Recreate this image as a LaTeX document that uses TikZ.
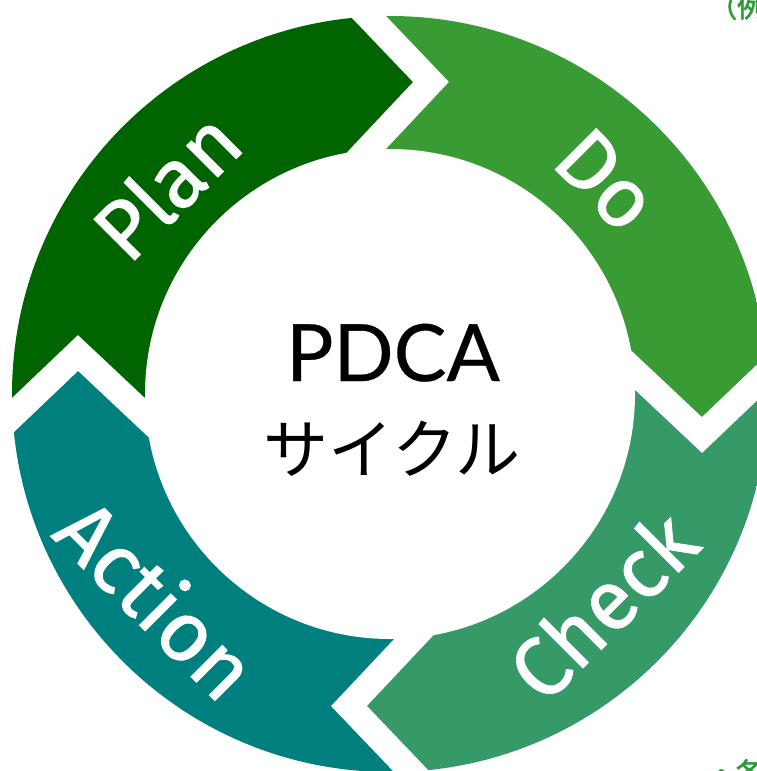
\documentclass[tikz,border=0pt]{standalone}
\usepackage{fontspec}
\newfontfamily\labelfont{Fira Sans}[FakeBold=1.2]
\newfontfamily\pdcafont{Lato}[FakeBold=0.4]
\newfontfamily\cjk{Noto Sans CJK JP}
\newfontfamily\cjkbold{Noto Sans CJK JP}[FakeBold=2]
\definecolor{planc}{HTML}{006400}
\definecolor{doc}{HTML}{389B34}
\definecolor{checkc}{HTML}{359968}
\definecolor{actc}{HTML}{007F7F}
\definecolor{txtgreen}{HTML}{2E9B3A}
\tikzset{
  gapline/.style={white, line width=26pt, line join=miter},
  ringlabel/.style={text=white, inner sep=0pt, font=\labelfont\fontsize{84}{88}\selectfont},
  partial/.style={text=txtgreen, inner sep=0pt, font=\cjkbold\fontsize{28}{30}\selectfont}
}
\begin{document}
\begin{tikzpicture}[x=1pt,y=-1pt]
\useasboundingbox (0,0) rectangle (757,771);
\fill[white] (0,0) rectangle (757,771);
\clip (0,0) rectangle (757,771);
\coordinate (C) at (390,394);
% top boundary (Plan -> Do)
\coordinate (At) at (325.7,194);
\coordinate (Tt) at (431,82);
\coordinate (Bt) at (318.4,-36);
\coordinate (Ft) at (350,-206);
% right boundary (Do -> Check)
\coordinate (Ar) at (590,329.7);
\coordinate (Tr) at (702,435);
\coordinate (Br) at (820,322.4);
\coordinate (Fr) at (990,354);
% bottom boundary (Check -> Action)
\coordinate (Ab) at (454.3,594);
\coordinate (Tb) at (349,706);
\coordinate (Bb) at (461.6,824);
\coordinate (Fb) at (430,994);
% left boundary (Action -> Plan)
\coordinate (Al) at (190,458.3);
\coordinate (Tl) at (78,353);
\coordinate (Bl) at (-40,465.6);
\coordinate (Fl) at (-210,434);
\begin{scope}
  \clip (C) circle (378pt);
  \fill[planc] (C) -- (Al) -- (Tl) -- (Bl) -- (Fl) -- (-210,-206) -- (Ft) -- (Bt) -- (Tt) -- (At) -- cycle;
  \fill[doc] (C) -- (At) -- (Tt) -- (Bt) -- (Ft) -- (990,-206) -- (Fr) -- (Br) -- (Tr) -- (Ar) -- cycle;
  \fill[checkc] (C) -- (Ar) -- (Tr) -- (Br) -- (Fr) -- (990,994) -- (Fb) -- (Bb) -- (Tb) -- (Ab) -- cycle;
  \fill[actc] (C) -- (Ab) -- (Tb) -- (Bb) -- (Fb) -- (-210,994) -- (Fl) -- (Bl) -- (Tl) -- (Al) -- cycle;
\end{scope}
\fill[white] (C) circle (245pt);
\draw[gapline] (At) -- (Tt) -- (Bt);
\draw[gapline] (Ar) -- (Tr) -- (Br);
\draw[gapline] (Ab) -- (Tb) -- (Bb);
\draw[gapline] (Al) -- (Tl) -- (Bl);
% ring labels
\node[ringlabel, rotate=45] (plan) at (166,185) {Plan};
\node[ringlabel, rotate=-45] (do) at (606,180) {Do};
\node[ringlabel, rotate=45] (check) at (602,605) {Check};
\node[ringlabel, rotate=-45] (action) at (158,598) {Action};
% centre text
\node[inner sep=0pt, anchor=base, font=\pdcafont\fontsize{79}{80}\selectfont] (pdca) at (393,381) {PDCA};
\node[inner sep=0pt, font=\cjk\fontsize{65}{68}\selectfont] (cycle) at (392,448.5) {サイクル};
% partial texts cut by the frame
\node[partial, anchor=north west] (topfrag) at (709,-7) {（例};
\node[partial, anchor=base west] (botfrag) at (707,783) {・各};
\end{tikzpicture}
\end{document}
